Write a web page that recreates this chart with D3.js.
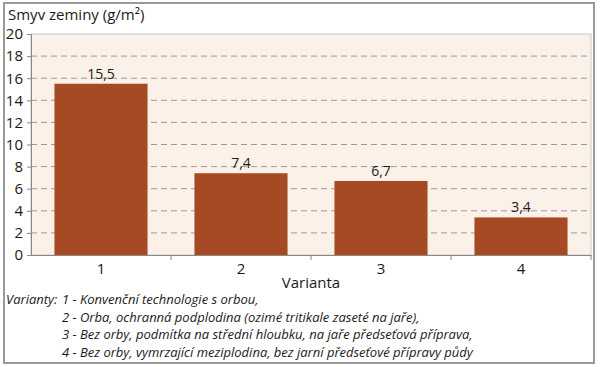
<!DOCTYPE html>
<html><head><meta charset="utf-8">
<script src="https://cdn.jsdelivr.net/npm/d3@7"></script>
<style>
body{margin:0;background:#fff;}
svg{display:block;}
text{font-family:"Open Sans","Noto Sans",sans-serif;fill:#1a1a1a;}
</style></head>
<body><svg id="c" width="600" height="367"></svg>
<script>
const categories = ["1","2","3","4"];
const values = [15.5, 7.4, 6.7, 3.4];
const valueLabels = ["15,5","7,4","6,7","3,4"];
const yTicks = [0,2,4,6,8,10,12,14,16,18,20];
const title = "Smyv zeminy (g/m²)";
const xTitle = "Varianta";
const notes = [
  ["Varianty: ", "1 - Konvenční technologie s orbou,"],
  ["", "2 - Orba, ochranná podplodina (ozimé tritikale zaseté na jaře),"],
  ["", "3 - Bez orby, podmítka na střední hloubku, na jaře předseťová příprava,"],
  ["", "4 - Bez orby, vymrzající meziplodina, bez jarní předseťové přípravy půdy"]
];

const svg = d3.select("#c");
const L = 31, R = 591, T = 34, B = 255;

// outer frame
svg.append("rect").attr("x",4).attr("y",3).attr("width",590).attr("height",360)
  .attr("fill","#fff").attr("stroke","#999").attr("stroke-width",2);

const x = d3.scaleBand().domain(categories).range([L,R]).paddingInner(0.335).paddingOuter(0.1675);
const y = d3.scaleLinear().domain([0,20]).range([B,T]);

// plot background
svg.append("rect").attr("x",L).attr("y",T).attr("width",R-L).attr("height",B-T)
  .attr("fill","#fcf1e8").attr("stroke","#c8c8c8").attr("stroke-width",1);

// grid
svg.append("g").selectAll("line").data(yTicks.filter(d=>d>0&&d<20)).join("line")
  .attr("x1",L).attr("x2",R).attr("y1",d=>y(d)).attr("y2",d=>y(d))
  .attr("stroke","#9a9a9a").attr("stroke-width",1).attr("stroke-dasharray","6,4");

// bars
svg.append("g").selectAll("rect").data(values).join("rect")
  .attr("x",(d,i)=>x(categories[i])).attr("width",x.bandwidth())
  .attr("y",d=>y(d)).attr("height",d=>B-y(d)).attr("fill","#a64a24");

// value labels
svg.append("g").selectAll("text").data(values).join("text")
  .attr("x",(d,i)=>x(categories[i])+x.bandwidth()/2).attr("y",d=>y(d)-5)
  .attr("text-anchor","middle").attr("font-size",14).text((d,i)=>valueLabels[i]);

// y axis
const yAxis = svg.append("g").attr("transform",`translate(${L},0)`)
  .call(d3.axisLeft(y).tickValues(yTicks).tickSize(4).tickPadding(4).tickFormat(d3.format("d")));
yAxis.select(".domain").attr("stroke","#888");
yAxis.selectAll(".tick line").attr("stroke","#888");
yAxis.selectAll("text").attr("font-size",15).attr("fill","#1a1a1a").attr("font-family","'Open Sans','Noto Sans',sans-serif");

// x axis
const xAxis = svg.append("g").attr("transform",`translate(0,${B})`)
  .call(d3.axisBottom(x).tickSize(0).tickPadding(8));
xAxis.select(".domain").attr("stroke","#888").attr("stroke-width",1.2);
xAxis.selectAll("text").attr("font-size",15).attr("fill","#1a1a1a").attr("font-family","'Open Sans','Noto Sans',sans-serif");
// boundary ticks
const bounds = categories.map(c=>x(c)-x.step()*x.paddingInner()/2).concat([R]);
svg.append("g").selectAll("line").data(bounds.slice(1)).join("line")
  .attr("x1",d=>d).attr("x2",d=>d).attr("y1",B).attr("y2",B+5).attr("stroke","#888");

// titles
svg.append("text").attr("x",8).attr("y",20).attr("font-size",15).text(title);
svg.append("text").attr("x",(L+R)/2).attr("y",288).attr("text-anchor","middle").attr("font-size",15).text(xTitle);

// notes
const ng = svg.append("g").attr("font-style","italic").attr("font-size",13);
notes.forEach((n,i)=>{
  const t = ng.append("text").attr("y",304+i*17.7);
  if(n[0]) t.append("tspan").attr("x",6).text(n[0]);
  t.append("tspan").attr("x",62).text(n[1]);
});
</script></body></html>
